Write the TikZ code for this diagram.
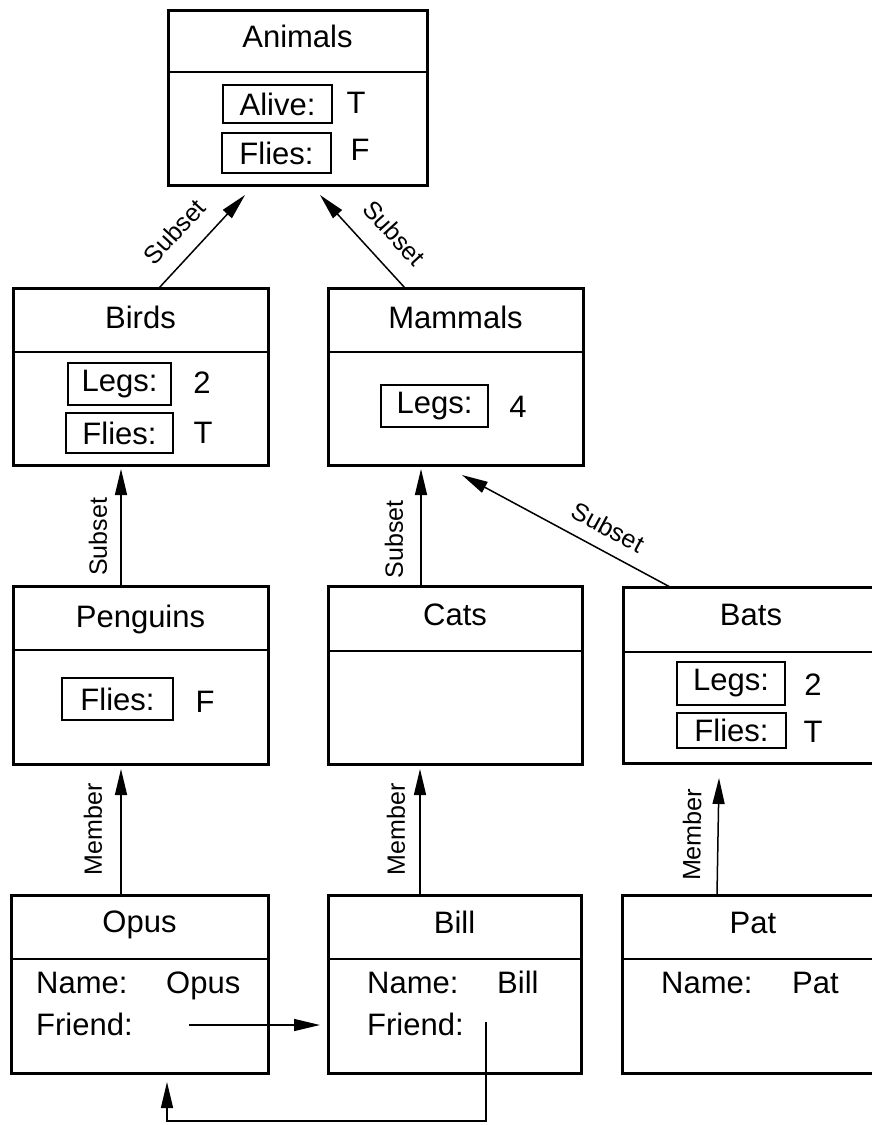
\documentclass[tikz,border=0pt]{standalone}
\usepackage{fontspec}
\setmainfont{Liberation Sans}
\usetikzlibrary{arrows.meta}
\begin{document}
\begin{tikzpicture}[x=1pt,y=-1pt,
  frame/.style={draw, line width=3pt, anchor=north west, inner sep=0pt, outer sep=0pt},
  divline/.style={line width=2pt},
  title/.style={anchor=base, inner sep=0pt, font=\fontsize{31pt}{36pt}\selectfont},
  txt/.style={anchor=base west, inner sep=0pt, font=\fontsize{31pt}{36pt}\selectfont},
  val/.style={anchor=base, inner sep=0pt, font=\fontsize{31pt}{36pt}\selectfont},
  slot/.style={draw, line width=1.6pt, inner sep=0pt, font=\fontsize{31pt}{36pt}\selectfont},
  arr/.style={line width=1.5pt, -{Triangle[length=26pt,width=12pt]}},
  lab/.style={inner sep=0pt, outer sep=0pt, font=\fontsize{25pt}{30pt}\selectfont, sloped}]
\useasboundingbox (0,0) rectangle (872,1125);
\clip (0,0) rectangle (872,1125);

% ---------- Animals ----------
\node[frame, minimum width=259pt, minimum height=175pt] (animals) at (168,10) {};
\draw[divline] ([yshift=-62pt]animals.north west) -- ([yshift=-62pt]animals.north east);
\node[title] (animalsT) at (297.5,47) {Animals};
\node[slot, minimum width=109pt, minimum height=38pt] (animalsAlive) at (277.5,104) {Alive:};
\node[val] (animalsAliveV) at (356,113) {T};
\node[slot, minimum width=109pt, minimum height=40pt] (animalsFlies) at (276.5,153) {Flies:};
\node[val] (animalsFliesV) at (360,160) {F};

% ---------- Birds ----------
\node[frame, minimum width=255pt, minimum height=177pt] (birds) at (13,288) {};
\draw[divline] ([yshift=-64pt]birds.north west) -- ([yshift=-64pt]birds.north east);
\node[title] (birdsT) at (140.5,328) {Birds};
\node[slot, minimum width=103pt, minimum height=42pt] (birdsLegs) at (119.5,384) {Legs:};
\node[val] (birdsLegsV) at (202,393) {2};
\node[slot, minimum width=107pt, minimum height=40pt] (birdsFlies) at (119.5,433) {Flies:};
\node[val] (birdsFliesV) at (203,443) {T};

% ---------- Mammals ----------
\node[frame, minimum width=255pt, minimum height=177pt] (mammals) at (328,288) {};
\draw[divline] ([yshift=-64pt]mammals.north west) -- ([yshift=-64pt]mammals.north east);
\node[title] (mammalsT) at (455.5,328) {Mammals};
\node[slot, minimum width=107pt, minimum height=42pt] (mammalsLegs) at (434.5,406) {Legs:};
\node[val] (mammalsLegsV) at (518,417) {4};

% ---------- Penguins ----------
\node[frame, minimum width=255pt, minimum height=178pt] (penguins) at (13,586) {};
\draw[divline] ([yshift=-64pt]penguins.north west) -- ([yshift=-64pt]penguins.north east);
\node[title] (penguinsT) at (140.5,627) {Penguins};
\node[slot, minimum width=111pt, minimum height=42pt] (penguinsFlies) at (117.5,699) {Flies:};
\node[val] (penguinsFliesV) at (205,712) {F};

% ---------- Cats ----------
\node[frame, minimum width=254pt, minimum height=178pt] (cats) at (328,586) {};
\draw[divline] ([yshift=-65pt]cats.north west) -- ([yshift=-65pt]cats.north east);
\node[title] (catsT) at (455,625) {Cats};

% ---------- Bats ----------
\node[frame, minimum width=256pt, minimum height=176pt] (bats) at (623,587) {};
\draw[divline] ([yshift=-65pt]bats.north west) -- ([yshift=-65pt]bats.north east);
\node[title] (batsT) at (751,625) {Bats};
\node[slot, minimum width=108pt, minimum height=43pt] (batsLegs) at (731,683.5) {Legs:};
\node[val] (batsLegsV) at (813,695) {2};
\node[slot, minimum width=109pt, minimum height=35pt] (batsFlies) at (731.5,730.5) {Flies:};
\node[val] (batsFliesV) at (813,742) {T};

% ---------- Opus ----------
\node[frame, minimum width=257pt, minimum height=178pt] (opus) at (11,895) {};
\draw[divline] ([yshift=-64pt]opus.north west) -- ([yshift=-64pt]opus.north east);
\node[title] (opusT) at (139.5,932) {Opus};
\node[txt] (opusName) at (36,993) {Name:};
\node[txt] (opusNameV) at (166,993) {Opus};
\node[txt] (opusFriend) at (36,1035) {Friend:};

% ---------- Bill ----------
\node[frame, minimum width=253pt, minimum height=178pt] (bill) at (328,895) {};
\draw[divline] ([yshift=-64pt]bill.north west) -- ([yshift=-64pt]bill.north east);
\node[title] (billT) at (454.5,933) {Bill};
\node[txt] (billName) at (367,993) {Name:};
\node[txt] (billNameV) at (497,993) {Bill};
\node[txt] (billFriend) at (367,1035) {Friend:};

% ---------- Pat ----------
\node[frame, minimum width=258pt, minimum height=178pt] (pat) at (622,895) {};
\draw[divline] ([yshift=-64pt]pat.north west) -- ([yshift=-64pt]pat.north east);
\node[title] (patT) at (753,933) {Pat};
\node[txt] (patName) at (661,993) {Name:};
\node[txt] (patNameV) at (792,993) {Pat};

% ---------- Connectors ----------
\draw[arr] ([xshift=18.5pt]birds.north) -- ([xshift=-52.5pt,yshift=-10pt]animals.south)
  node[lab, pos=0.41, above=18pt] {Subset};
\draw[arr] ([xshift=-50.5pt]mammals.north) -- ([xshift=22.5pt,yshift=-10pt]animals.south)
  node[lab, pos=0.38, above=20pt] {Subset};
\draw[arr] ([xshift=-19.5pt]penguins.north) -- ([xshift=-19.5pt,yshift=-4pt]birds.south)
  node[lab, pos=0.42, above=14pt] {Subset};
\draw[arr] ([xshift=-34pt]cats.north) -- ([xshift=-34.5pt,yshift=-4pt]mammals.south)
  node[lab, pos=0.40, above=18pt] {Subset};
\draw[arr] ([xshift=-81pt]bats.north) -- ([xshift=6.5pt,yshift=-10pt]mammals.south)
  node[lab, pos=0.35, above=14pt] {Subset};
\draw[arr] ([xshift=-18.5pt]opus.north) -- ([xshift=-19.5pt,yshift=-5pt]penguins.south)
  node[lab, pos=0.52, above=19pt] {Member};
\draw[arr] ([xshift=-34.5pt]bill.north) -- ([xshift=-35pt,yshift=-5pt]cats.south)
  node[lab, pos=0.52, above=15pt] {Member};
\draw[arr] ([xshift=-34pt]pat.north) -- ([xshift=-32pt,yshift=-15pt]bats.south)
  node[lab, pos=0.51, above=17pt] {Member};

\coordinate (opusLink) at (189,1025);
\draw[arr] (opusLink) -- ([xshift=-8pt,yshift=-41pt]bill.west);
\coordinate (billLink) at (486,1022);
\coordinate (billLinkDown) at (486,1121);
\draw[arr] (billLink) -- (billLinkDown) -| ([xshift=27.5pt,yshift=-9pt]opus.south);
\end{tikzpicture}
\end{document}
